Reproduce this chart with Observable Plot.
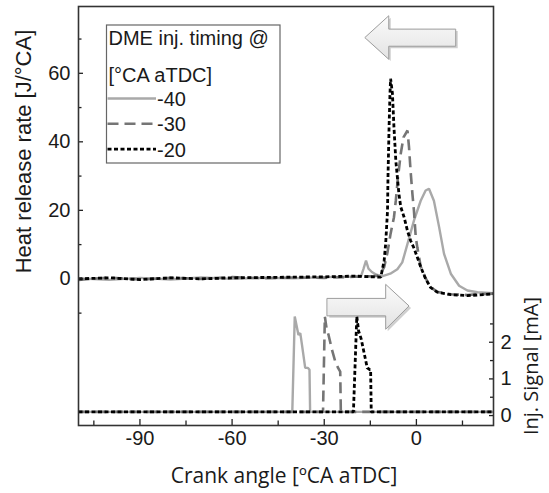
<!DOCTYPE html>
<html><head><meta charset="utf-8">
<script src="https://cdn.jsdelivr.net/npm/d3@7"></script>
<script src="https://cdn.jsdelivr.net/npm/@observablehq/plot@0.6"></script>
<style>body{margin:0;background:#fff} svg{display:block}</style>
</head><body><div id="chart"></div>
<script>
// ---- series labels & styles ----
const timings = ["-40", "-30", "-20"];
const seriesColors = ["#a9a9a9", "#757575", "#000000"];
const seriesDash = [null, "11,6", "4,2.5"];
const seriesWidth = [2.4, 2.6, 2.8];

// ---- heat release rate [J/°CA] vs crank angle ----
const hrrAngleM40 = [-110,-100,-90,-80,-70,-60,-50,-40,-30,-22,-18,-17.2,-16.4,-15.6,-14.5,-13,-11,-8.5,-6.2,-4.6,-2.9,-0.8,1.4,3.0,4.1,5.7,7.4,9.0,11.2,13.9,16.6,19.9,25];
const hrrM40      = [0.2,-0.3,0.3,-0.2,0.4,0,0.3,0.2,0.5,0.6,0.8,3,5.3,3,2,1.2,0.8,1.5,2.8,4.8,10.2,17,22.8,25.8,26.3,22.8,15.1,7.3,1.5,-2.0,-3.4,-3.9,-4.2];

const hrrAngleM30 = [-110,-100,-90,-80,-70,-60,-50,-40,-30,-20,-14,-12,-10.5,-9.4,-8.4,-7.3,-6.7,-6.0,-5.1,-4.2,-2.9,-2.4,-1.9,-1.3,-0.8,-0.2,0.3,1.4,3.0,4.6,6.8,11.2,16.6,20,25];
const hrrM30      = [-0.3,0.4,-0.2,0.3,0,0.5,0.2,0.4,0.3,0.6,0.8,1.0,3.4,7.8,13.2,18,22.9,29.6,36.5,41.3,43.3,38.4,31.6,24.8,19.9,12.1,9.2,3.6,0.2,-2.4,-3.8,-4.5,-4.7,-4.5,-4.3];

const hrrAngleM20 = [-110,-100,-90,-80,-70,-60,-50,-40,-30,-20,-14.5,-11.6,-10.5,-10.0,-9.4,-9.25,-8.9,-8.6,-8.4,-7.8,-7.3,-6.7,-5.7,-5.1,-4.0,-2.9,-1.9,-0.8,0.3,1.4,3.0,4.6,6.8,11.2,16.6,25];
const hrrM20      = [0,0.3,-0.2,0.3,0,0.3,0.4,0.5,0.6,0.8,0.6,0.5,5.3,10.3,19.9,29.6,44.2,54,58.4,54.1,44.2,34.5,24.9,21,18,14,11.2,9,6.3,3.5,0,-2.5,-3.9,-4.6,-4.9,-4.4];

// ---- injection signal [mA] vs crank angle ----
const sigAngleM40 = [-110,-40.4,-39.6,-39.0,-38.4,-37.8,-37.2,-36.2,-35.3,-34.8,-34.6,25];
const sigM40      = [0.1,0.1,2.7,2.45,2.2,2.25,1.9,1.3,1.3,1.25,0.1,0.1];
const sigAngleM30 = [-110,-30.4,-29.8,-29.2,-28.6,-27.5,-26.5,-25.5,-24.8,-24.6,25];
const sigM30      = [0.1,0.1,2.7,2.35,2.2,1.8,1.5,1.3,1.2,0.1,0.1];
const sigAngleM20 = [-110,-20.5,-19.4,-18.8,-18.0,-17.0,-16.0,-15.1,-14.9,-14.7,25];
const sigM20      = [0.1,0.1,2.7,2.3,2.1,1.7,1.3,1.25,1.25,0.1,0.1];

// ---- ticks ----
const xMajor = [-90, -60, -30, 0];
const xMinor = [-105, -75, -45, -15, 15];
const yMajor = [0, 20, 40, 60];
const yMinor = [-10, 10, 30, 50, 70];
const sigMajor = [0, 1, 2];
const sigMinor = [0.5, 1.5, 2.5];

// ---- annotation arrows (vertices in data units: angle, HRR) ----
const arrowLeftShape  = [[-16.7,70.5],[-9.0,76.8],[-9.0,72.9],[12.8,72.9],[12.8,67.9],[-9.0,67.9],[-9.0,64.2]];
const arrowRightShape = [[-29.0,-5.7],[-10.0,-5.7],[-10.0,-1.6],[-2.4,-7.9],[-10.0,-14.7],[-10.0,-10.8],[-29.0,-10.8]];

// ---- layout ----
const W = 549, H = 493;
const mTop = 6, mBottom = 68, mLeft = 78, mRight = 56;
const innerW = W - mLeft - mRight, innerH = H - mTop - mBottom;
const xDomain = [-110, 25.1];
const yDomain = [-42.8, 79.5];
// right axis (signal) expressed in left-axis units
const sigScale = d3.scaleLinear().domain([0, 1]).range([-39.9, -29.2]);

const rows = (xs, ys) => xs.map((x, i) => ({angle: x, value: ys[i]}));
const hrrSeries = [rows(hrrAngleM40, hrrM40), rows(hrrAngleM30, hrrM30), rows(hrrAngleM20, hrrM20)];
const sigSeries = [rows(sigAngleM40, sigM40), rows(sigAngleM30, sigM30), rows(sigAngleM20, sigM20)];

const seriesMarks = [];
[0, 1, 2].forEach(i => {
  const style = {stroke: seriesColors[i], strokeWidth: seriesWidth[i], strokeDasharray: seriesDash[i] || undefined,
    strokeLinecap: "butt", strokeLinejoin: "miter"};
  seriesMarks.push(Plot.line(sigSeries[i], {x: "angle", y: d => sigScale(d.value), ...style}));
  seriesMarks.push(Plot.line(hrrSeries[i], {x: "angle", y: "value", ...style}));
});

const arrowMarks = [arrowLeftShape, arrowRightShape].flatMap(shape => [
  Plot.line(shape, {x: d => d[0], y: d => d[1], curve: "linear-closed", fill: "#bfbfbf", stroke: "none", dx: 2, dy: 2, fillOpacity: 0.75}),
  Plot.line(shape, {x: d => d[0], y: d => d[1], curve: "linear-closed", fill: "url(#arrowGrad)", stroke: "#9c9c9c", strokeWidth: 1})
]);

const svg = Plot.plot({
  width: W, height: H,
  marginTop: mTop, marginBottom: mBottom, marginLeft: mLeft, marginRight: mRight,
  style: {fontFamily: "'Liberation Sans', Arial, sans-serif", fontSize: "20px", color: "#1a1a1a", background: "white"},
  x: {domain: xDomain},
  y: {domain: yDomain},
  marks: [
    () => {
      const defs = d3.create("svg:defs");
      const g = defs.append("linearGradient").attr("id", "arrowGrad").attr("x1", 0).attr("y1", 0).attr("x2", 0).attr("y2", 1);
      g.append("stop").attr("offset", "0%").attr("stop-color", "#fbfbfb");
      g.append("stop").attr("offset", "100%").attr("stop-color", "#e3e3e3");
      return defs.node();
    },
    ...arrowMarks,
    ...seriesMarks,
    // inward tick marks
    Plot.ruleX(xMajor, {x: d => d, insetTop: innerH - 6, stroke: "#222", strokeWidth: 1.3}),
    Plot.ruleX(xMinor, {x: d => d, insetTop: innerH - 4.5, stroke: "#222", strokeWidth: 1.3}),
    Plot.ruleY(yMajor, {y: d => d, insetRight: innerW - 5, stroke: "#222", strokeWidth: 1.3}),
    Plot.ruleY(yMinor, {y: d => d, insetRight: innerW - 3.5, stroke: "#222", strokeWidth: 1.3}),
    Plot.ruleY(sigMajor, {y: d => sigScale(d), insetLeft: innerW - 4, stroke: "#222", strokeWidth: 1.3}),
    Plot.ruleY(sigMinor, {y: d => sigScale(d), insetLeft: innerW - 3, stroke: "#222", strokeWidth: 1.3}),
    // tick labels
    Plot.axisX(xMajor, {anchor: "bottom", tickSize: 0, tickPadding: 5, label: null, tickFormat: d => String(d)}),
    Plot.axisY(yMajor, {anchor: "left", tickSize: 0, tickPadding: 8, label: null, tickFormat: d => String(d)}),
    Plot.axisY(sigMajor.map(d => sigScale(d)), {anchor: "right", tickSize: 0, tickPadding: 7, label: null,
      tickFormat: d => String(Math.round(sigScale.invert(d)))}),
    Plot.frame({stroke: "#333", strokeWidth: 1.6})
  ]
});

const s = d3.select(svg);
// axis titles
s.append("text").attr("transform", "translate(31,151.5) rotate(-90)").attr("text-anchor", "middle")
  .style("font-family", "'Liberation Sans', Arial, sans-serif").style("font-size", "22px").attr("fill", "#1a1a1a")
  .text("Heat release rate [J/°CA]");
s.append("text").attr("transform", "translate(538,366) rotate(-90)").attr("text-anchor", "middle")
  .style("font-family", "'Open Sans', sans-serif").style("font-size", "20px").attr("fill", "#1a1a1a")
  .text("Inj. Signal [mA]");
s.append("text").attr("x", 284).attr("y", 483).attr("text-anchor", "middle")
  .style("font-family", "'Open Sans', sans-serif").style("font-size", "21px").attr("fill", "#1a1a1a")
  .text("Crank angle [ºCA aTDC]");

// legend
const lg = s.append("g").style("font-family", "'Liberation Sans', Arial, sans-serif").style("font-size", "20px")
  .attr("text-anchor", "start");
lg.append("rect").attr("x", 106.5).attr("y", 25).attr("width", 173.5).attr("height", 138)
  .attr("fill", "white").attr("stroke", "#666").attr("stroke-width", 1.2);
lg.append("text").attr("x", 108.5).attr("y", 45).attr("text-anchor", "start").attr("fill", "#1a1a1a").text("DME inj. timing @");
lg.append("text").attr("x", 108.5).attr("y", 82).attr("text-anchor", "start").attr("fill", "#1a1a1a").text("[°CA aTDC]");
timings.forEach((t, i) => {
  const yMid = 98.5 + i * 25.3;
  lg.append("line").attr("x1", 107.5).attr("x2", 156).attr("y1", yMid).attr("y2", yMid)
    .attr("stroke", seriesColors[i]).attr("stroke-width", seriesWidth[i])
    .attr("stroke-dasharray", seriesDash[i]);
  lg.append("text").attr("x", 157).attr("y", yMid + 7.5).attr("text-anchor", "start").attr("fill", "#1a1a1a").text(t);
});

document.getElementById("chart").appendChild(svg);
</script>
</body></html>
